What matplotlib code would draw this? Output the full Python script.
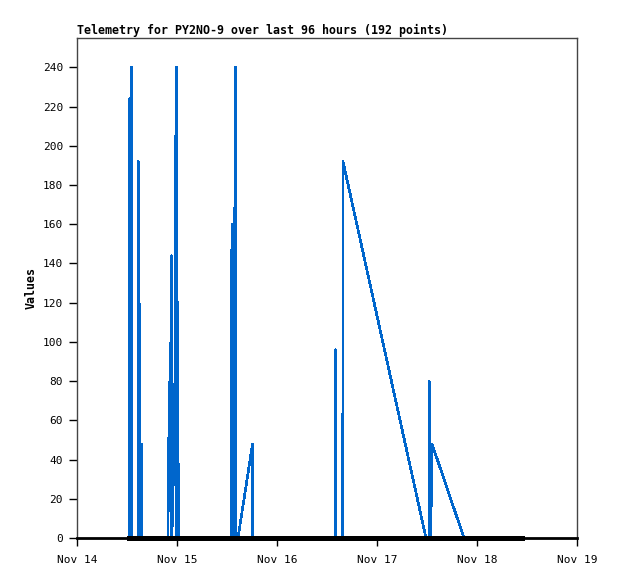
import matplotlib
matplotlib.use("Agg")
import matplotlib.pyplot as plt
import matplotlib.dates as mdates
from datetime import datetime, timedelta

title = "Telemetry for PY2NO-9 over last 96 hours (192 points)"
ylabel = "Values"
start = datetime(2023, 11, 14)

# hours since Nov 14 00:00, and telemetry values
hours = [12.48, 12.55, 12.84, 12.9, 13.0, 13.08, 13.15,
         14.64, 14.68, 14.88, 14.95, 15.0, 15.1, 15.3, 15.48, 15.55,
         21.84, 21.9, 22.08, 22.32, 22.45, 22.68, 22.75, 23.0, 23.52, 23.64, 23.88, 23.95, 24.24, 24.3,
         36.96, 37.0, 37.27, 37.44, 37.5, 38.04, 38.1, 38.64, 42.12, 42.2,
         62.04, 62.1, 62.16, 63.78, 63.84, 83.76,
         84.48, 84.52, 84.72, 84.9, 85.2, 92.88, 106.8]
values = [0, 224, 224, 16, 240, 240, 0,
          0, 192, 176, 80, 16, 0, 48, 48, 0,
          0, 20, 60, 84, 80, 144, 0, 16, 84, 188, 240, 0, 120, 0,
          0, 128, 160, 48, 0, 240, 0, 0, 48, 0,
          0, 96, 0, 0, 192, 0,
          0, 80, 40, 0, 48, 0, 0]

times = [start + timedelta(hours=h) for h in hours]
baseline = [0 for _ in hours]

fig = plt.figure(figsize=(6.18, 5.79), dpi=100)
ax = fig.add_axes([77/618, 1-538/579, 500/618, 500/579])

ax.plot(times, values, color="#0066cc", linewidth=1.2, antialiased=False,
        solid_joinstyle="round")
ax.plot([times[0], times[-1]], [baseline[0], baseline[-1]], color="black", linewidth=2.2,
        clip_on=False, antialiased=False)

ax.set_xlim(start, start + timedelta(days=5))
ax.set_ylim(0, 255)
ax.set_yticks(range(0, 241, 20))
ax.xaxis.set_major_locator(mdates.DayLocator())
ax.xaxis.set_major_formatter(mdates.DateFormatter("%b %d"))

mono = "DejaVu Sans Mono"
for lab in ax.get_xticklabels() + ax.get_yticklabels():
    lab.set_family(mono)
    lab.set_fontsize(8)
ax.tick_params(axis="both", direction="out", length=6, width=1, colors="black", pad=4)
ax.tick_params(axis="x", pad=6)

for s in ["top", "right", "left"]:
    ax.spines[s].set_color("#444444")
    ax.spines[s].set_linewidth(1)
ax.spines["bottom"].set_color("black")
ax.spines["bottom"].set_linewidth(2)

ax.set_title(title, loc="left", fontsize=8.4, fontweight="bold", family=mono, pad=3)
ax.set_ylabel(ylabel, fontsize=8.4, fontweight="bold", family=mono)
ax.yaxis.set_label_coords(-0.078, 0.5)

fig.savefig("out.png", dpi=100)
